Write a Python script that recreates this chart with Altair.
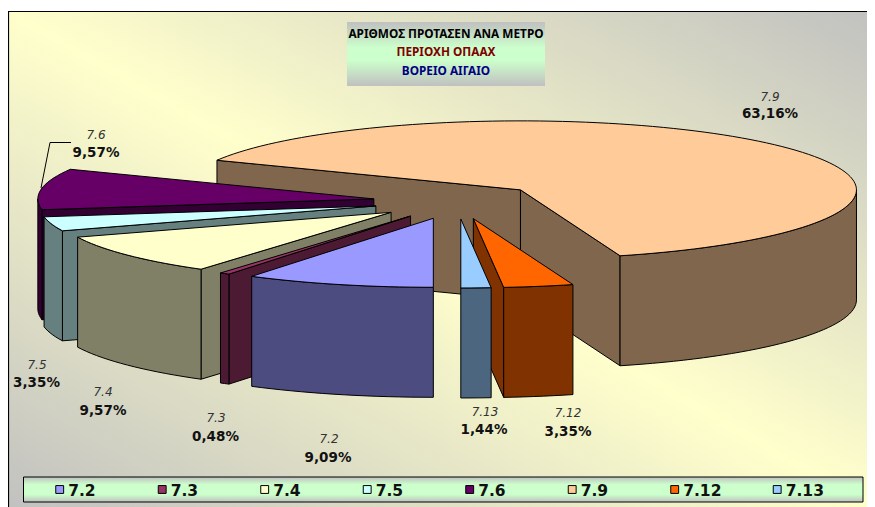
import math
import altair as alt
import pandas as pd

# ---- data
CATEGORIES = ["7.2", "7.3", "7.4", "7.5", "7.6", "7.9", "7.12", "7.13"]
VALUES = [9.09, 0.48, 9.57, 3.35, 9.57, 63.16, 3.35, 1.44]
COLORS = ["#9999FF", "#993366", "#FFFFCC", "#CCFFFF", "#660066", "#FFCC99", "#FF6600", "#99CCFF"]
SIDES = ["#4C4C80", "#4D1A33", "#808066", "#668080", "#330033", "#80664D", "#803300", "#4D6680"]
TITLE_LINES = ["ΑΡΙΘΜΟΣ ΠΡΟΤΑΣΕΝ ΑΝΑ  ΜΕΤΡΟ", "ΠΕΡΙΟΧΗ ΟΠΑΑΧ", "ΒΟΡΕΙΟ ΑΙΓΑΙΟ"]
TITLE_COLORS = ["#000000", "#800000", "#000080"]

# ---- layout of the page (pixels of the photographed window)
X0, X1, Y0, Y1 = 8, 867, 8, 507
CX, CY, RX, RY, DEPTH = 457.0, 201.4, 336.0, 69.0, 110.0
EXPLODE_X, EXPLODE_Y = 84.0, 17.6
START_ANGLE = 180.0
DRAW_ORDER = ["7.9", "7.6", "7.5", "7.4", "7.3", "7.2", "7.12", "7.13"]
LABEL_NAME_POS = {"7.2": (329, 439), "7.3": (216, 418), "7.4": (103, 392), "7.5": (37, 365),
                  "7.6": (96, 135), "7.9": (770, 97), "7.12": (568, 413), "7.13": (485, 412)}
LABEL_PCT_POS = {"7.2": (328, 458), "7.3": (215.5, 437), "7.4": (103, 411), "7.5": (36.5, 383),
                 "7.6": (96, 153), "7.9": (770, 114), "7.12": (568, 432), "7.13": (484, 430)}
LEGEND_SWATCH_X = [59.7, 162.2, 264.7, 367.2, 469.7, 572.2, 674.7, 777.2]

XS = alt.Scale(domain=[X0, X1], nice=False, zero=False, padding=0)
YS = alt.Scale(domain=[Y1, Y0], nice=False, zero=False, padding=0)
X = alt.X("x:Q", axis=None, scale=XS)
Y = alt.Y("y:Q", axis=None, scale=YS)


def rect(x, x2, y, y2, color, **kw):
    d = pd.DataFrame({"x": [x], "x2": [x2], "y": [y], "y2": [y2]})
    return alt.Chart(d).mark_rect(color=color, clip=True, **kw).encode(
        x=X, x2="x2:Q", y=Y, y2="y2:Q")


def face(points, fill):
    d = pd.DataFrame({"x": [p[0] for p in points], "y": [p[1] for p in points],
                      "i": list(range(len(points)))})
    return alt.Chart(d).mark_line(fill=fill, stroke="#000000", strokeWidth=1.0,
                                  interpolate="linear-closed", clip=True).encode(
        x=X, y=Y, order="i:Q")


def polar(ax, ay, deg, dy=0.0):
    t = math.radians(deg)
    return (ax + RX * math.sin(t), ay - RY * math.cos(t) + dy)


def arc_angles(a, b):
    n = max(2, int((b - a) / 2) + 1)
    return [a + (b - a) * k / n for k in range(n + 1)]


total = sum(VALUES)
spans, cur = {}, START_ANGLE
for c, v in zip(CATEGORIES, VALUES):
    spans[c] = (cur, cur + 360 * v / total)
    cur += 360 * v / total

layers = []
bg_gradient = alt.Gradient(gradient="linear", x1=1, y1=0, x2=0, y2=1, stops=[
    alt.GradientStop(color="#C0C0C0", offset=0),
    alt.GradientStop(color="#FFFFCC", offset=0.5),
    alt.GradientStop(color="#C0C0C0", offset=1)])
layers.append(rect(8.5, 885, 11.5, 515, bg_gradient, stroke="#000000", strokeWidth=1.2))

for c in DRAW_ORDER:
    i = CATEGORIES.index(c)
    s, e = spans[c]
    mid = math.radians((s + e) / 2)
    ax = CX + EXPLODE_X * math.sin(mid)
    ay = CY - EXPLODE_Y * math.cos(mid)
    apex_t, apex_b = (ax, ay), (ax, ay + DEPTH)
    # cut faces turned to the viewer
    if math.sin(math.radians(s)) < -1e-6:
        layers.append(face([apex_t, polar(ax, ay, s), polar(ax, ay, s, DEPTH), apex_b], SIDES[i]))
    if math.sin(math.radians(e)) > 1e-6:
        layers.append(face([apex_t, polar(ax, ay, e), polar(ax, ay, e, DEPTH), apex_b], SIDES[i]))
    # rim of the slice, front half only
    for lo, hi in ((90, 270), (450, 630)):
        a, b = max(s, lo), min(e, hi)
        if b > a:
            angs = arc_angles(a, b)
            pts = [polar(ax, ay, t) for t in angs] + [polar(ax, ay, t, DEPTH) for t in reversed(angs)]
            layers.append(face(pts, SIDES[i]))
    # top
    layers.append(face([apex_t] + [polar(ax, ay, t) for t in arc_angles(s, e)], COLORS[i]))

# leader of the 7.6 label
leader = pd.DataFrame({"x": [41, 50, 71], "y": [188, 142.5, 142.5], "i": [0, 1, 2]})
layers.append(alt.Chart(leader).mark_line(color="#000000", strokeWidth=1).encode(x=X, y=Y, order="i:Q"))

FONT = "DejaVu Sans"
names = pd.DataFrame({"t": CATEGORIES,
                      "x": [LABEL_NAME_POS[c][0] for c in CATEGORIES],
                      "y": [LABEL_NAME_POS[c][1] for c in CATEGORIES]})
pcts = pd.DataFrame({"t": [f"{v:.2f}".replace(".", ",") + "%" for v in VALUES],
                     "x": [LABEL_PCT_POS[c][0] for c in CATEGORIES],
                     "y": [LABEL_PCT_POS[c][1] for c in CATEGORIES]})
layers.append(alt.Chart(names).mark_text(font=FONT, fontSize=12, fontStyle="italic", color="#333333",
                                         baseline="middle", align="center").encode(x=X, y=Y, text="t:N"))
layers.append(alt.Chart(pcts).mark_text(font=FONT, fontSize=13.5, fontWeight="bold", color="#111111",
                                        baseline="middle", align="center").encode(x=X, y=Y, text="t:N"))

# title box
band = alt.Gradient(gradient="linear", x1=0, y1=0, x2=0, y2=1, stops=[
    alt.GradientStop(color="#C0C0C0", offset=0),
    alt.GradientStop(color="#CCFFCC", offset=0.4),
    alt.GradientStop(color="#CCFFCC", offset=0.6),
    alt.GradientStop(color="#C0C0C0", offset=1)])
layers.append(rect(347, 545, 22, 86, band))
TITLE_Y = [33.5, 51.5, 70.5]
for line, col, ty in zip(TITLE_LINES, TITLE_COLORS, TITLE_Y):
    d = pd.DataFrame({"x": [446], "y": [ty], "t": [line]})
    layers.append(alt.Chart(d).mark_text(font="Noto Sans", fontSize=11.8, fontWeight="bold", color=col,
                                         baseline="middle", align="center").encode(x=X, y=Y, text="t:N"))

# legend strip
strip = alt.Gradient(gradient="linear", x1=0, y1=0, x2=0, y2=1, stops=[
    alt.GradientStop(color="#C0C0C0", offset=0),
    alt.GradientStop(color="#CCFFCC", offset=0.3),
    alt.GradientStop(color="#CCFFCC", offset=0.7),
    alt.GradientStop(color="#C0C0C0", offset=1)])
layers.append(rect(23.5, 863, 477, 502, strip, stroke="#000000", strokeWidth=1))
legend = pd.DataFrame({"c": CATEGORIES, "x": LEGEND_SWATCH_X, "y": [489.5] * 8,
                       "tx": [v + 8.5 for v in LEGEND_SWATCH_X], "ty": [490.5] * 8})
layers.append(alt.Chart(legend).mark_square(size=62, opacity=1, stroke="#000000", strokeWidth=1).encode(
    x=X, y=Y,
    fill=alt.Fill("c:N", scale=alt.Scale(domain=CATEGORIES, range=COLORS), legend=None)))
layers.append(alt.Chart(legend).mark_text(font=FONT, fontSize=15.5, fontWeight="bold", color="#111111",
                                          baseline="middle", align="left").encode(
    x=alt.X("tx:Q", axis=None, scale=XS), y=alt.Y("ty:Q", axis=None, scale=YS), text="c:N"))

chart = alt.layer(*layers).properties(
    width=X1 - X0, height=Y1 - Y0, padding=0, autosize=alt.AutoSizeParams(type="none"),
    background="#FFFFFF"
).configure_view(stroke=None)

chart.save("out.html", embed_options={"renderer": "svg", "actions": False})
